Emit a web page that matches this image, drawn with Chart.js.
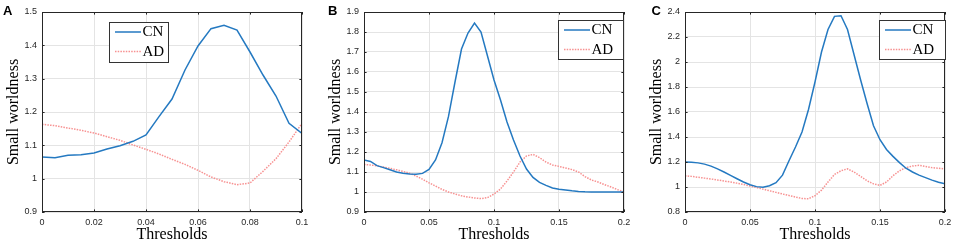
<!DOCTYPE html>
<html><head><meta charset="utf-8">
<script src="https://cdn.jsdelivr.net/npm/chart.js@4/dist/chart.umd.min.js"></script>
<style>
html,body{margin:0;padding:0;background:#fff;width:954px;height:243px;overflow:hidden}
.p{position:absolute;top:0;height:243px}
canvas{display:block}
</style></head><body>
<div class="p" style="left:0;width:315px"><canvas id="cA" width="315" height="243"></canvas></div>
<div class="p" style="left:315px;width:315px"><canvas id="cB" width="315" height="243"></canvas></div>
<div class="p" style="left:630px;width:324px"><canvas id="cC" width="324" height="243"></canvas></div>
<script>
// ---------------- DATA ----------------
const seriesNames = ['CN', 'AD'];
const xTitle = 'Thresholds';
const yTitle = 'Small worldness';
const panelLetters = ['A', 'B', 'C'];

const thresholdsA = [0, 0.005, 0.01, 0.015, 0.02, 0.025, 0.03, 0.035, 0.04, 0.045, 0.05,
  0.055, 0.06, 0.065, 0.07, 0.075, 0.08, 0.085, 0.09, 0.095, 0.1];
const cnA = [1.065, 1.063, 1.07, 1.072, 1.077, 1.089, 1.099, 1.112, 1.131, 1.186, 1.239,
  1.326, 1.398, 1.45, 1.46, 1.446, 1.38, 1.311, 1.248, 1.166, 1.136];
const adA = [1.163, 1.159, 1.152, 1.145, 1.137, 1.126, 1.115, 1.101, 1.088, 1.074, 1.058,
  1.043, 1.025, 1.005, 0.991, 0.982, 0.987, 1.022, 1.06, 1.11, 1.166];

const thresholdsBC = [0, 0.005, 0.01, 0.015, 0.02, 0.025, 0.03, 0.035, 0.04, 0.045, 0.05,
  0.055, 0.06, 0.065, 0.07, 0.075, 0.08, 0.085, 0.09, 0.095, 0.1,
  0.105, 0.11, 0.115, 0.12, 0.125, 0.13, 0.135, 0.14, 0.145, 0.15,
  0.155, 0.16, 0.165, 0.17, 0.175, 0.18, 0.185, 0.19, 0.195, 0.2];
const cnB = [1.16, 1.153, 1.132, 1.122, 1.111, 1.1, 1.094, 1.09, 1.089, 1.093, 1.113,
  1.16, 1.246, 1.378, 1.55, 1.715, 1.795, 1.845, 1.8, 1.68, 1.56,
  1.46, 1.35, 1.26, 1.18, 1.115, 1.073, 1.048, 1.033, 1.02, 1.014,
  1.01, 1.006, 1.003, 1.001, 1.0, 1.0, 1.0, 1.0, 1.0, 1.0];
const adB = [1.138, 1.135, 1.131, 1.125, 1.118, 1.111, 1.103, 1.094, 1.08, 1.064, 1.046,
  1.03, 1.013, 1.0, 0.99, 0.981, 0.975, 0.97, 0.967, 0.972, 0.99,
  1.015, 1.055, 1.1, 1.15, 1.18, 1.188, 1.172, 1.15, 1.135, 1.128,
  1.12, 1.112, 1.1, 1.077, 1.06, 1.05, 1.037, 1.025, 1.012, 1.0];
const cnC = [1.2, 1.198, 1.193, 1.183, 1.167, 1.145, 1.12, 1.093, 1.066, 1.04, 1.018,
  1.003, 0.998, 1.01, 1.035, 1.095, 1.21, 1.32, 1.44, 1.62, 1.84,
  2.08, 2.26, 2.365, 2.37, 2.26, 2.06, 1.86, 1.67, 1.49, 1.378,
  1.3, 1.245, 1.195, 1.15, 1.12, 1.095, 1.075, 1.055, 1.038, 1.025];
const adC = [1.09, 1.085, 1.078, 1.071, 1.064, 1.056, 1.048, 1.04, 1.031, 1.02, 1.008,
  0.996, 0.983, 0.97, 0.957, 0.944, 0.932, 0.92, 0.908, 0.906, 0.93,
  0.975, 1.04, 1.1, 1.13, 1.145, 1.12, 1.085, 1.05, 1.025, 1.013,
  1.04, 1.09, 1.13, 1.155, 1.168, 1.173, 1.165, 1.155, 1.15, 1.145];

// axis ranges / tick steps
const xRangeA = [0, 0.1], xStepA = 0.02, yRangeA = [0.9, 1.5], yStepA = 0.1;
const xRangeB = [0, 0.2], xStepB = 0.05, yRangeB = [0.9, 1.9], yStepB = 0.1;
const xRangeC = [0, 0.2], xStepC = 0.05, yRangeC = [0.8, 2.4], yStepC = 0.2;

// ---------------- STYLE ----------------
const CN_COLOR = '#2479c1';
const AD_COLOR = '#f79191';
const AXIS_COLOR = '#262626';
const GRID_COLOR = '#e4e4e4';
const SANS = "'Liberation Sans', Arial, sans-serif";
const SERIF = "'Liberation Serif', 'Times New Roman', serif";

const fmt = v => String(Math.round(v * 10000) / 10000);

const decorPlugin = {
  id: 'decor',
  afterDatasetsDraw(chart) {
    const {ctx, chartArea: a, scales} = chart;
    ctx.save();
    ctx.strokeStyle = AXIS_COLOR;
    ctx.lineWidth = 1;
    const L = 2.6;
    ctx.beginPath();
    scales.x.ticks.forEach(t => {
      const px = Math.round(scales.x.getPixelForValue(t.value)) + 0.5;
      ctx.moveTo(px, a.bottom); ctx.lineTo(px, a.bottom - L);
      ctx.moveTo(px, a.top); ctx.lineTo(px, a.top + L);
    });
    scales.y.ticks.forEach(t => {
      const py = Math.round(scales.y.getPixelForValue(t.value)) + 0.5;
      ctx.moveTo(a.left, py); ctx.lineTo(a.left + L, py);
      ctx.moveTo(a.right, py); ctx.lineTo(a.right - L, py);
    });
    ctx.stroke();
    ctx.strokeRect(a.left + 0.5, a.top + 0.5, a.right - a.left - 1, a.bottom - a.top - 1);
    ctx.restore();
  },
  afterDraw(chart, args, opts) {
    const {ctx} = chart;
    ctx.save();
    // panel letter
    ctx.fillStyle = '#000';
    ctx.font = "bold 13px " + SANS;
    ctx.textBaseline = 'alphabetic';
    ctx.fillText(opts.letter, opts.letterX, 15);
    // legend box
    const [bx, by, bw, bh] = opts.box;
    ctx.fillStyle = '#fff';
    ctx.fillRect(bx, by, bw, bh);
    ctx.strokeStyle = '#333';
    ctx.lineWidth = 1;
    ctx.strokeRect(bx + 0.5, by + 0.5, bw - 1, bh - 1);
    chart.data.datasets.forEach((ds, i) => {
      const y = by + 10 + i * 19.5;
      ctx.strokeStyle = ds.borderColor;
      ctx.lineWidth = ds.borderWidth;
      ctx.setLineDash(ds.borderDash || []);
      ctx.beginPath();
      ctx.moveTo(bx + 6, y); ctx.lineTo(bx + 32, y);
      ctx.stroke();
      ctx.setLineDash([]);
      ctx.fillStyle = '#000';
      ctx.font = "15px " + SERIF;
      ctx.textBaseline = 'middle';
      ctx.fillText(ds.label, bx + 33.5, y + 0.5);
    });
    ctx.restore();
  }
};

function makeChart(id, xs, cn, ad, xr, xs_, yr, ys_, yAxisWidth, padRight, yTitlePad, letter, letterX, box) {
  const toPts = arr => arr.map((v, i) => ({x: xs[i], y: v}));
  return new Chart(document.getElementById(id), {
    type: 'line',
    data: {
      datasets: [
        {label: seriesNames[0], data: toPts(cn), borderColor: CN_COLOR, borderWidth: 1.5,
          pointRadius: 0, tension: 0, fill: false},
        {label: seriesNames[1], data: toPts(ad), borderColor: AD_COLOR, borderWidth: 1.5,
          borderDash: [1.5, 1.2], pointRadius: 0, tension: 0, fill: false}
      ]
    },
    options: {
      responsive: false,
      animation: false,
      devicePixelRatio: 1,
      layout: {padding: {top: 12, right: padRight, left: 0, bottom: 0}},
      plugins: {
        legend: {display: false},
        tooltip: {enabled: false},
        decor: {letter, letterX, box}
      },
      scales: {
        x: {
          type: 'linear', min: xr[0], max: xr[1],
          grid: {color: GRID_COLOR, drawTicks: false, lineWidth: 1},
          border: {display: false},
          ticks: {stepSize: xs_, padding: 5, color: AXIS_COLOR, font: {family: SANS, size: 9},
            maxRotation: 0, callback: v => fmt(v)},
          title: {display: true, text: xTitle, color: '#000',
            font: {family: SERIF, size: 16, lineHeight: 1}, padding: {top: 0, bottom: 0.5}},
          afterFit: s => { s.height = 31; s.paddingLeft = 0; s.paddingRight = 0; }
        },
        y: {
          type: 'linear', min: yr[0], max: yr[1],
          grid: {color: GRID_COLOR, drawTicks: false, lineWidth: 1},
          border: {display: false},
          ticks: {stepSize: ys_, padding: 5, color: AXIS_COLOR, font: {family: SANS, size: 9},
            callback: v => fmt(v)},
          title: {display: true, text: yTitle, color: '#000',
            font: {family: SERIF, size: 16, lineHeight: 1.2}, padding: {top: yTitlePad, bottom: 0}},
          afterFit: s => { s.width = yAxisWidth; s.paddingTop = 0; s.paddingBottom = 0; }
        }
      }
    },
    plugins: [decorPlugin]
  });
}

makeChart('cA', thresholdsA, cnA, adA, xRangeA, xStepA, yRangeA, yStepA, 42, 13, 4, panelLetters[0], 3, [109, 22, 60, 41]);
makeChart('cB', thresholdsBC, cnB, adB, xRangeB, xStepB, yRangeB, yStepB, 49, 6, 11, panelLetters[1], 13, [243, 20, 66, 40]);
makeChart('cC', thresholdsBC, cnC, adC, xRangeC, xStepC, yRangeC, yStepC, 55, 9, 17, panelLetters[2], 21.5, [249, 20, 67, 40]);
</script>
</body></html>
